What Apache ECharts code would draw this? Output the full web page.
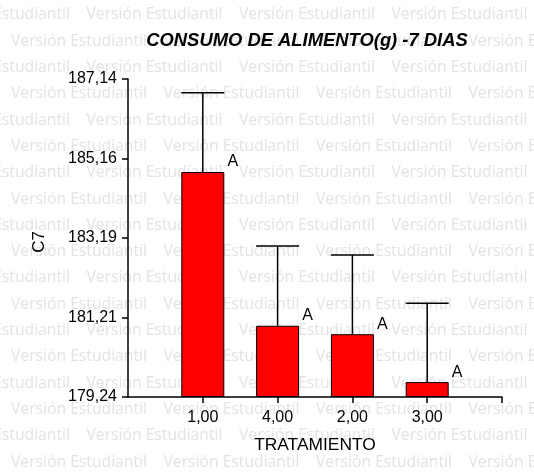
<!DOCTYPE html>
<html>
<head>
<meta charset="utf-8">
<script src="https://cdn.jsdelivr.net/npm/echarts@6/dist/echarts.min.js"></script>
<style>
html,body{margin:0;padding:0;background:#fff;}
#chart{width:534px;height:475px;}
</style>
</head>
<body>
<div id="chart"></div>
<script>
// ---- data ----
const categories = ["1,00", "4,00", "2,00", "3,00"];
const means = [184.83, 181.01, 180.80, 179.61];
const errorTops = [186.80, 182.99, 182.77, 181.57];
const sigLetters = ["A", "A", "A", "A"];
const yTickValues = [179.24, 181.215, 183.19, 185.165, 187.14];
const yTickLabels = ["179,24", "181,21", "183,19", "185,16", "187,14"];
const titleText = "CONSUMO DE ALIMENTO(g) -7 DIAS";
const xName = "TRATAMIENTO";
const yName = "C7";
const watermarkText = "Versión Estudiantil";

const FONT = "'Liberation Sans', Arial, sans-serif";

// watermark (background)
const wm = [];
for (let r = 0; r < 18; r++) {
  const y = 15 + r * 26.3;
  const off = (r % 2 === 0) ? -66 : 11;
  for (let k = 0; k < 5; k++) {
    wm.push({
      type: 'text', z: -10, silent: true,
      x: off + k * 152.5, y: y,
      style: { text: watermarkText, fill: '#e3e3e3', fontSize: 15.7, fontFamily: "'Open Sans', sans-serif", verticalAlign: 'middle', align: 'left' }
    });
  }
}

const barData = categories.map((c, i) => [i + 1, means[i]]);
const errData = categories.map((c, i) => [i + 1, means[i], errorTops[i]]);

const chart = echarts.init(document.getElementById('chart'), null, { renderer: 'canvas' });
chart.setOption({
  backgroundColor: '#ffffff',
  animation: false,
  title: {
    text: titleText, left: 302, top: 27, textAlign: 'center',
    textStyle: { fontFamily: FONT, fontSize: 18.4, fontWeight: 'bold', fontStyle: 'italic', color: '#000' }
  },
  graphic: { elements: wm },
  grid: { left: 128, right: 32, top: 79, bottom: 78, containLabel: false },
  xAxis: {
    type: 'value', min: 0, max: 5,
    name: xName, nameLocation: 'middle', nameGap: 40,
    nameTextStyle: { fontFamily: FONT, fontSize: 17.4, color: '#000' },
    axisLine: { lineStyle: { color: '#000', width: 1.5 } },
    axisTick: { show: true, length: 6, customValues: [1, 2, 3, 4, 5], lineStyle: { color: '#000', width: 1.5 } },
    axisLabel: {
      customValues: [1, 2, 3, 4], margin: 13,
      fontFamily: FONT, fontSize: 16, color: '#000',
      formatter: v => categories[Math.round(v) - 1] || ''
    },
    splitLine: { show: false }
  },
  yAxis: {
    type: 'value', min: yTickValues[0], max: yTickValues[yTickValues.length - 1],
    startValue: yTickValues[0],
    name: yName, nameLocation: 'middle', nameGap: 80, nameRotate: 90,
    nameTextStyle: { fontFamily: FONT, fontSize: 17, color: '#000', padding: [0, 8, 0, 0] },
    axisLine: { show: true, lineStyle: { color: '#000', width: 1.5 } },
    axisTick: { show: true, length: 6, customValues: yTickValues, lineStyle: { color: '#000', width: 1.5 } },
    axisLabel: {
      customValues: yTickValues, margin: 11,
      fontFamily: FONT, fontSize: 16, color: '#000', padding: [3, 0, 0, 0],
      formatter: v => {
        const i = yTickValues.findIndex(t => Math.abs(t - v) < 1e-6);
        return i >= 0 ? yTickLabels[i] : '';
      }
    },
    splitLine: { show: false }
  },
  series: [
    {
      type: 'bar', data: barData, barWidth: 43, clip: true, z: 2,
      itemStyle: { color: '#ff0000', borderColor: '#000', borderWidth: 1 },
      label: {
        show: true, position: 'top', distance: 0, offset: [30, -2],
        fontFamily: FONT, fontSize: 16, color: '#000',
        formatter: p => sigLetters[p.dataIndex]
      }
    },
    {
      type: 'custom', data: errData, z: 3,
      renderItem: (params, api) => {
        const x = api.value(0), lo = api.value(1), hi = api.value(2);
        const p0 = api.coord([x, lo]);
        const p1 = api.coord([x, hi]);
        const half = 21.5;
        return {
          type: 'group',
          children: [
            { type: 'line', shape: { x1: p0[0], y1: p0[1], x2: p1[0], y2: p1[1] }, style: { stroke: '#000', lineWidth: 1.5 } },
            { type: 'line', shape: { x1: p1[0] - half, y1: p1[1], x2: p1[0] + half, y2: p1[1] }, style: { stroke: '#000', lineWidth: 1.5 } }
          ]
        };
      }
    }
  ]
});
</script>
</body>
</html>
